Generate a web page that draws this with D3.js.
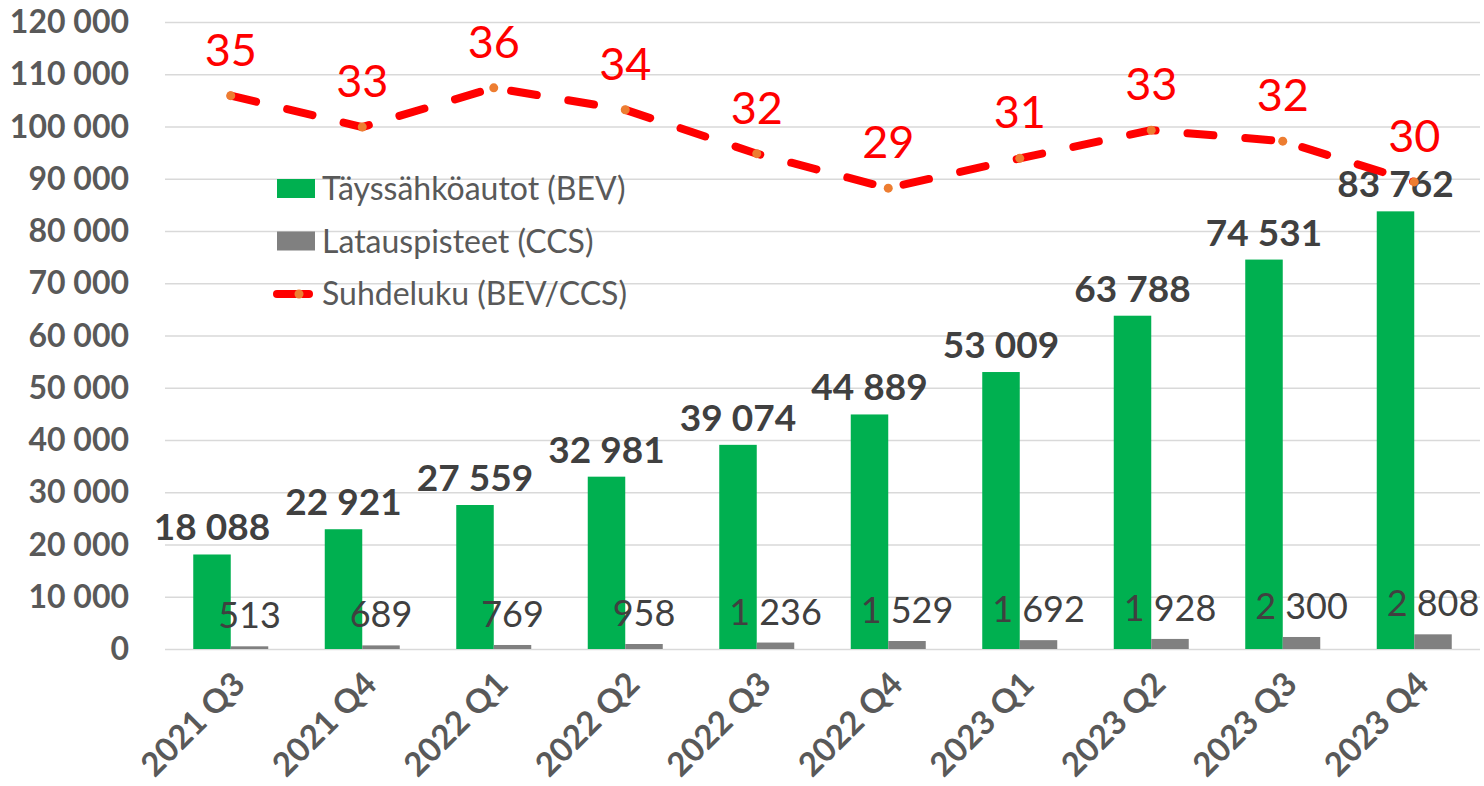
<!DOCTYPE html>
<html>
<head>
<meta charset="utf-8">
<script src="https://cdn.jsdelivr.net/npm/d3@7"></script>
<style>
  html, body { margin: 0; padding: 0; background: #fff; }
  svg { display: block; font-family: Lato, "Open Sans", sans-serif; }
</style>
</head>
<body>
<svg width="1484" height="786"></svg>
<script>
const quarters = ["2021 Q3", "2021 Q4", "2022 Q1", "2022 Q2", "2022 Q3", "2022 Q4", "2023 Q1", "2023 Q2", "2023 Q3", "2023 Q4"];
const bev = [18088, 22921, 27559, 32981, 39074, 44889, 53009, 63788, 74531, 83762];
const ccs = [513, 689, 769, 958, 1236, 1529, 1692, 1928, 2300, 2808];
const ratio = [35.3, 33.3, 35.8, 34.4, 31.6, 29.4, 31.3, 33.1, 32.4, 29.8];
const yTicks = [0, 10000, 20000, 30000, 40000, 50000, 60000, 70000, 80000, 90000, 100000, 110000, 120000];

const green = "#00B050", grey = "#808080", red = "#FF0000", orange = "#ED7D31";
const textDark = "#404040", axisGrey = "#595959";

const svg = d3.select("svg");
const plotLeft = 165, plotRight = 1480, plotTop = 22, plotBottom = 649;

const x = d3.scaleBand().domain(quarters).range([plotLeft, plotRight]);
const y = d3.scaleLinear().domain([0, 120000]).range([plotBottom, plotTop]);
const y2 = d3.scaleLinear().domain([0, 40]).range([plotBottom, plotTop]);
const sub = d3.scaleBand().domain(["bev", "ccs"]).range([-37.5, 37.5]);
const cx = d => x(d) + x.bandwidth() / 2;

const fmt = v => d3.format(",")(v).replace(/,/g, " ");

// gridlines
svg.append("g").selectAll("line")
  .data(yTicks)
  .enter().append("line")
  .attr("x1", plotLeft).attr("x2", plotRight)
  .attr("y1", d => y(d) + 0.5).attr("y2", d => y(d) + 0.5)
  .attr("stroke", "#d9d9d9").attr("stroke-width", 1.3);

// y axis labels
svg.append("g").selectAll("text")
  .data(yTicks)
  .enter().append("text")
  .attr("x", 129).attr("y", d => y(d) + 11)
  .attr("text-anchor", "end")
  .attr("font-size", "32px").attr("font-weight", "bold")
  .attr("fill", axisGrey)
  .text(fmt);

// bars
const groups = svg.append("g").selectAll("g")
  .data(quarters)
  .enter().append("g");

groups.append("rect")
  .attr("x", d => cx(d) + sub("bev"))
  .attr("width", sub.bandwidth())
  .attr("y", (d, i) => y(bev[i]))
  .attr("height", (d, i) => y(0) - y(bev[i]))
  .attr("fill", green);

groups.append("rect")
  .attr("x", d => cx(d) + sub("ccs"))
  .attr("width", sub.bandwidth())
  .attr("y", (d, i) => y(ccs[i]))
  .attr("height", (d, i) => y(0) - y(ccs[i]))
  .attr("fill", grey);

// bar labels
groups.append("text")
  .attr("x", d => cx(d) + sub("bev") + sub.bandwidth() / 2)
  .attr("y", (d, i) => y(bev[i]) - 14)
  .attr("text-anchor", "middle")
  .attr("font-size", "37px").attr("font-weight", "bold")
  .attr("fill", textDark)
  .text((d, i) => fmt(bev[i]));

groups.append("text")
  .attr("x", d => cx(d) + sub("ccs") + sub.bandwidth() / 2)
  .attr("y", (d, i) => y(ccs[i]) - 18)
  .attr("text-anchor", "middle")
  .attr("font-size", "36px")
  .attr("fill", textDark)
  .text((d, i) => fmt(ccs[i]));

// x axis labels
svg.append("g").selectAll("text")
  .data(quarters)
  .enter().append("text")
  .attr("transform", d => `translate(${cx(d) + 8}, 678) rotate(-45)`)
  .attr("text-anchor", "end")
  .attr("dy", "0.35em")
  .attr("font-size", "33px").attr("font-weight", "bold")
  .attr("fill", axisGrey)
  .text(d => d);

// ratio line
const line = d3.line()
  .x((d, i) => cx(quarters[i]))
  .y(d => y2(d));

svg.append("path")
  .datum(ratio)
  .attr("d", line)
  .attr("fill", "none")
  .attr("stroke", red)
  .attr("stroke-width", 8)
  .attr("stroke-linecap", "round")
  .attr("stroke-dasharray", "26,32");

svg.append("g").selectAll("circle")
  .data(ratio)
  .enter().append("circle")
  .attr("cx", (d, i) => cx(quarters[i]))
  .attr("cy", d => y2(d))
  .attr("r", 4.5)
  .attr("fill", orange);

svg.append("g").selectAll("text")
  .data(ratio)
  .enter().append("text")
  .attr("x", (d, i) => cx(quarters[i]))
  .attr("y", d => y2(d) - 30)
  .attr("text-anchor", "middle")
  .attr("font-size", "45px")
  .attr("fill", red)
  .text(d => Math.round(d));

// legend
const legendItems = [
  { label: "Täyssähköautot (BEV)", type: "rect", color: green },
  { label: "Latauspisteet (CCS)", type: "rect", color: grey },
  { label: "Suhdeluku (BEV/CCS)", type: "line", color: red }
];

const legend = svg.append("g").attr("transform", "translate(277, 189)");
legendItems.forEach((d, i) => {
  const row = legend.append("g").attr("transform", `translate(0, ${i * 52.5})`);
  if (d.type === "rect") {
    row.append("rect").attr("x", 0).attr("y", -10).attr("width", 38).attr("height", 19).attr("fill", d.color);
  } else {
    row.append("line").attr("x1", 0).attr("x2", 32).attr("y1", 0).attr("y2", 0)
      .attr("stroke", d.color).attr("stroke-width", 8).attr("stroke-linecap", "round");
    row.append("circle").attr("cx", 22).attr("cy", 0).attr("r", 4.5).attr("fill", orange);
  }
  row.append("text")
    .attr("x", 45).attr("y", 11)
    .attr("font-size", "32px")
    .attr("fill", axisGrey)
    .text(d.label);
});
</script>
</body>
</html>
